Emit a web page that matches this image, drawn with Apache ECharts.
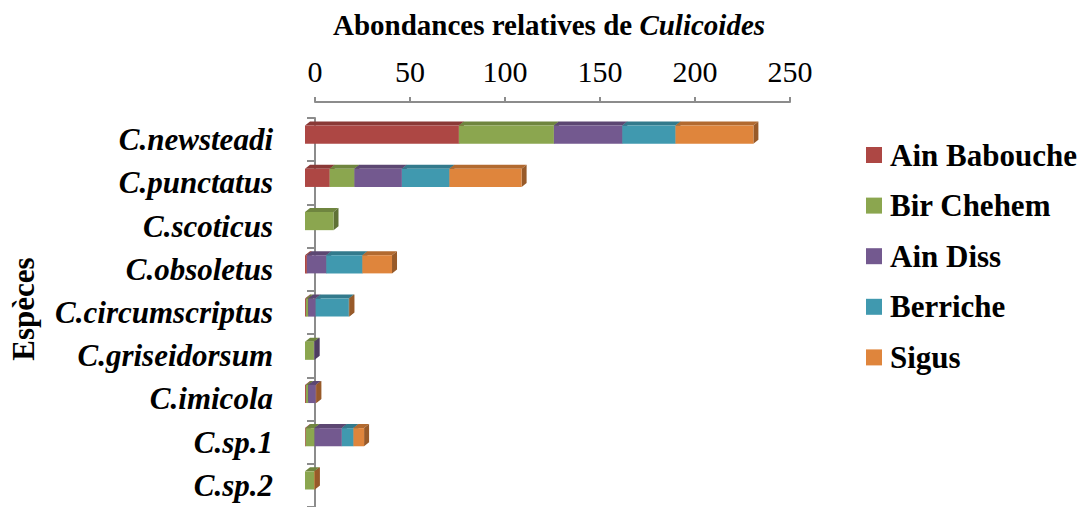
<!DOCTYPE html>
<html>
<head>
<meta charset="utf-8">
<title>Abondances relatives de Culicoides</title>
<script src="https://cdn.jsdelivr.net/npm/echarts@6/dist/echarts.min.js"></script>
<style>
  html, body { margin: 0; padding: 0; background: #ffffff; }
  #chart { width: 1090px; height: 507px; }
</style>
</head>
<body>
<div id="chart"></div>
<script>
// Species, top to bottom
const categories = [
  'C.newsteadi', 'C.punctatus', 'C.scoticus', 'C.obsoletus',
  'C.circumscriptus', 'C.griseidorsum', 'C.imicola', 'C.sp.1', 'C.sp.2'
];

// Sampling sites (stack order, left to right)
const siteNames = ['Ain Babouche', 'Bir Chehem', 'Ain Diss', 'Berriche', 'Sigus'];

// Abundance per species for each site
const ainBabouche = [81, 13, 0, 1, 0.5, 0, 0.5, 0.4, 0];
const birChehem   = [50, 13, 15, 0, 1.2, 4.7, 1.2, 4.6, 4.9];
const ainDiss     = [36, 25, 0, 10.2, 3.9, 0.4, 4, 14.4, 0];
const berriche    = [28, 25, 0, 19, 17.5, 0, 0, 6.1, 0];
const sigus       = [41, 38, 0, 15.6, 0.3, 0, 0.3, 5.6, 0.3];

// Value axis
const axisMin = 0;
const axisMax = 250;
const axisStep = 50;

const siteValues = [ainBabouche, birChehem, ainDiss, berriche, sigus];

const FONT = "'Liberation Serif', 'Times New Roman', Times, serif";
const siteColors = ['#AD4744', '#8BA64F', '#73598F', '#4099AF', '#DF853C'];

// Darken a hex colour for the shaded faces of the 3D bars
function shade(hex, f) {
  const n = parseInt(hex.slice(1), 16);
  const r = Math.round(((n >> 16) & 255) * f);
  const g = Math.round(((n >> 8) & 255) * f);
  const b = Math.round((n & 255) * f);
  return 'rgb(' + r + ',' + g + ',' + b + ')';
}

// Geometry of the pseudo-3D bar (pixels)
const FRONT_SHIFT_X = -10;  // front face sits left of the back wall
const DEPTH_X = 5;
const DEPTH_Y = 4;

function makeRenderItem(color) {
  const topColor = shade(color, 0.8);
  const sideColor = shade(color, 0.68);
  return function (params, api) {
    const start = api.value(0);
    const end = api.value(1);
    const cat = api.value(2);
    if (!(end > start)) return null;
    const p0 = api.coord([start, cat]);
    const p1 = api.coord([end, cat]);
    const band = api.size([0, 1])[1];
    const cy = p0[1];
    const yTop = cy - band * 0.325;
    const yBot = cy + band * 0.095;
    const x0 = p0[0] + FRONT_SHIFT_X;
    const x1 = p1[0] + FRONT_SHIFT_X;
    return {
      type: 'group',
      children: [
        {
          type: 'polygon',
          shape: { points: [[x0, yTop], [x0 + DEPTH_X, yTop - DEPTH_Y], [x1 + DEPTH_X, yTop - DEPTH_Y], [x1, yTop]] },
          style: { fill: topColor }
        },
        {
          type: 'polygon',
          shape: { points: [[x1, yTop], [x1 + DEPTH_X, yTop - DEPTH_Y], [x1 + DEPTH_X, yBot - DEPTH_Y], [x1, yBot]] },
          style: { fill: sideColor }
        },
        {
          type: 'rect',
          shape: { x: x0, y: yTop, width: x1 - x0, height: yBot - yTop },
          style: { fill: color }
        }
      ]
    };
  };
}

// Stack the sites: each segment runs from the running total to the new total
const runningTotal = categories.map(() => 0);
const series = siteNames.map((name, si) => {
  const data = categories.map((c, ci) => {
    const s = runningTotal[ci];
    const e = s + siteValues[si][ci];
    runningTotal[ci] = e;
    return [s, e, ci];
  });
  return {
    name: name,
    type: 'custom',
    renderItem: makeRenderItem(siteColors[si]),
    itemStyle: { color: siteColors[si] },
    encode: { x: [0, 1], y: 2 },
    data: data,
    clip: false
  };
});

const axisGray = '#8C8C8C';

const chart = echarts.init(document.getElementById('chart'), null, { renderer: 'svg' });
chart.setOption({
  backgroundColor: '#ffffff',
  animation: false,
  title: {
    text: '{b|Abondances relatives de }{bi|Culicoides}',
    left: 333,
    top: 10,
    padding: 0,
    textStyle: {
      rich: {
        b: { fontFamily: FONT, fontSize: 29, fontWeight: 'bold', color: '#000' },
        bi: { fontFamily: FONT, fontSize: 29, fontWeight: 'bold', fontStyle: 'italic', color: '#000' }
      }
    }
  },
  legend: {
    orient: 'vertical',
    left: 866,
    top: 138,
    padding: 0,
    icon: 'rect',
    itemWidth: 16,
    itemHeight: 16,
    itemGap: 16.6,
    data: siteNames,
    textStyle: {
      fontFamily: FONT, fontSize: 31, fontWeight: 'bold', color: '#000',
      lineHeight: 34, padding: [0, 0, 0, 3]
    }
  },
  graphic: [{
    type: 'text',
    x: 23,
    y: 309,
    rotation: Math.PI / 2,
    style: {
      text: 'Espèces',
      font: 'bold 31px ' + FONT,
      fill: '#000',
      align: 'center',
      verticalAlign: 'middle'
    }
  }],
  grid: { left: 315, top: 118, width: 475, height: 391 },
  xAxis: {
    type: 'value',
    position: 'top',
    offset: 16,
    min: axisMin,
    max: axisMax,
    interval: axisStep,
    axisLine: { show: true, lineStyle: { color: axisGray, width: 2 } },
    axisTick: { show: true, length: 5, lineStyle: { color: axisGray, width: 2 } },
    splitLine: { show: false },
    axisLabel: { fontFamily: FONT, fontSize: 30, color: '#000', margin: 16 }
  },
  yAxis: {
    type: 'category',
    data: categories,
    inverse: true,
    offset: 15,
    axisLine: { show: true, lineStyle: { color: axisGray, width: 2 } },
    axisTick: { show: true, length: 8, lineStyle: { color: axisGray, width: 2 } },
    splitLine: { show: false },
    axisLabel: {
      fontFamily: FONT, fontSize: 31, fontWeight: 'bold', fontStyle: 'italic',
      color: '#000', margin: 27
    }
  },
  series: series
});
</script>
</body>
</html>
